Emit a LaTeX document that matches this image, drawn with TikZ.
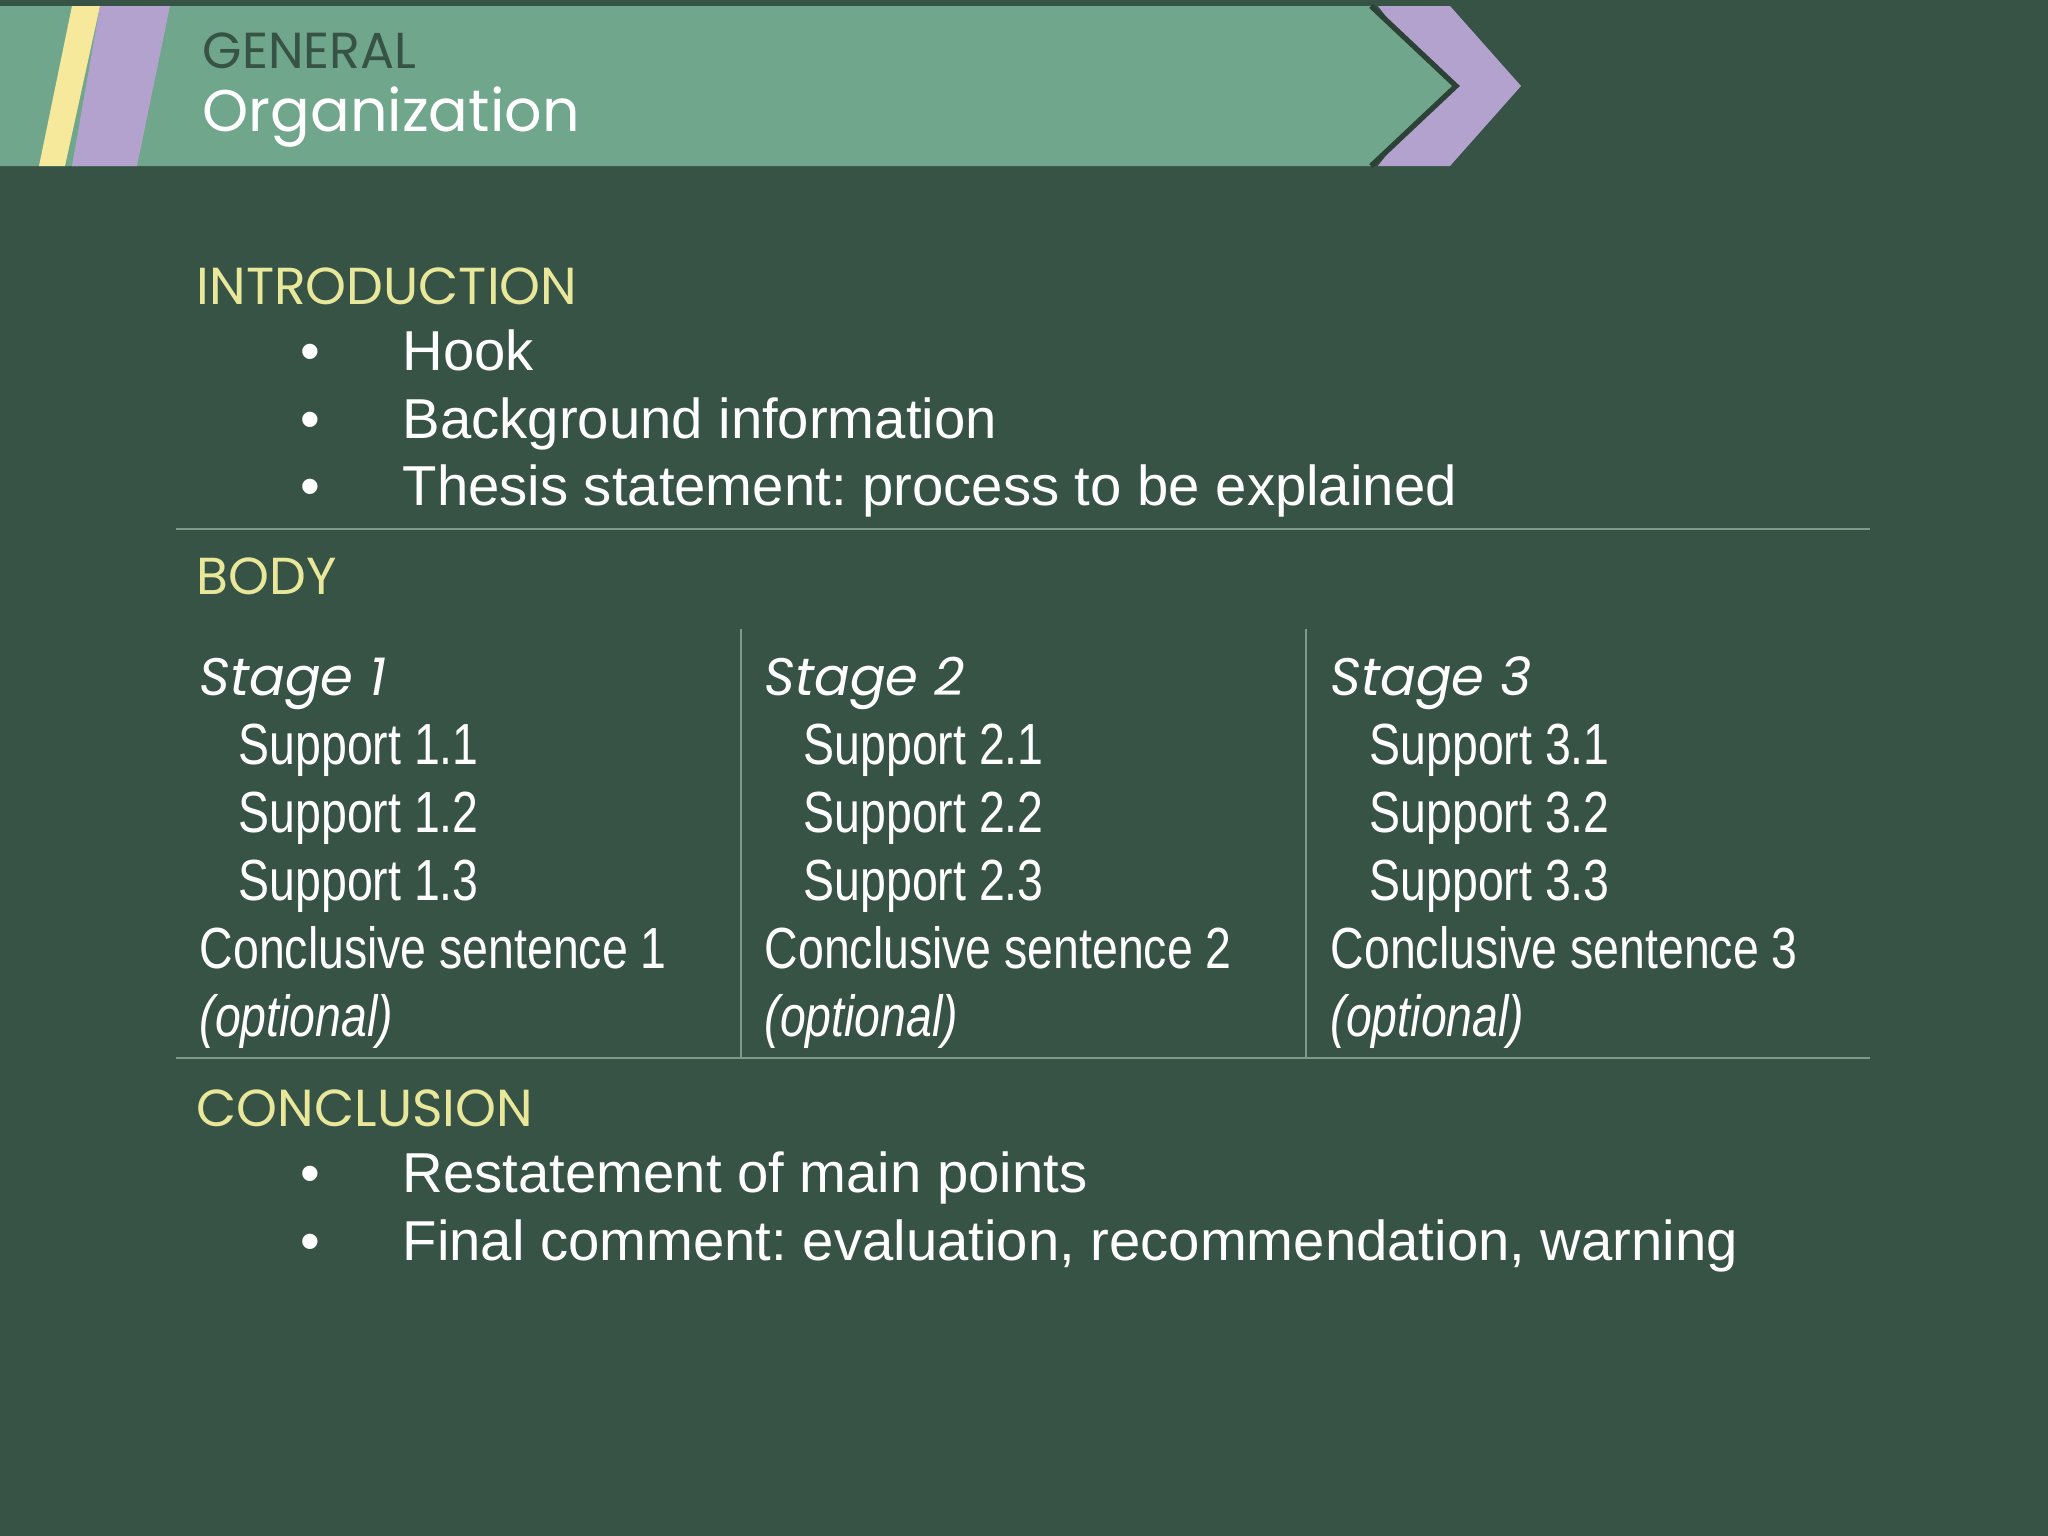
\documentclass[tikz,border=0pt]{standalone}
\usepackage{fontspec}
\setmainfont{Liberation Sans}
\newfontfamily\headf{Poppins}
\newfontfamily\narrowf[FakeStretch=0.8]{Liberation Sans}
\definecolor{bg}{HTML}{375345}
\definecolor{band}{HTML}{70A68B}
\definecolor{purp}{HTML}{B3A2CE}
\definecolor{yel}{HTML}{F6E99B}
\definecolor{head}{HTML}{E8E79A}
\definecolor{rule}{HTML}{7E9A88}
\frenchspacing
\begin{document}
\begin{tikzpicture}[x=0.01cm,y=-0.01cm,every node/.style={inner sep=0pt},
  hd/.style={anchor=base west,text=head,font=\headf\fontsize{14.8}{15}\selectfont},
  bl/.style={anchor=base west,text=white,font=\fontsize{16}{16}\selectfont},
  nr/.style={anchor=base west,text=white,font=\narrowf\fontsize{16.5}{17}\selectfont},
  st/.style={anchor=base west,text=white,font=\headf\itshape\fontsize{15}{16}\selectfont},
  ln/.style={draw=rule,line width=0.6pt}]
\fill[bg] (0,0) rectangle (2048,1536);
\fill[purp] (1378,6) -- (1450,6) -- (1521,86) -- (1450,166) -- (1378,166) -- (1440,86) -- cycle;
\fill[band] (0,6) -- (1371,6) -- (1456,86) -- (1371,166) -- (0,166) -- cycle;
\draw[bg!80!black,line width=1.5pt] (1371,6) -- (1456,86) -- (1371,166);
\fill[yel] (39,166) -- (65,166) -- (100,6) -- (72,6) -- cycle;
\fill[purp] (72,166) -- (137,166) -- (170,6) -- (100,6) -- cycle;
\node[anchor=base west,text=bg,font=\headf\fontsize{14.4}{15}\selectfont] (g) at (202,68) {GENERAL};
\node[anchor=base west,text=white,font=\headf\fontsize{16.7}{17}\selectfont] (o) at (202,131) {Organization};
\node[hd] (i) at (196,304) {INTRODUCTION};
\foreach \y/\t [count=\k] in {370/Hook,438/Background information,505/{Thesis statement: process to be explained}}{
  \node[bl] (ib\k) at (300,\y) {•};
  \node[bl] (it\k) at (402,\y) {\t};}
\draw[ln] (176,529) -- (1870,529);
\node[hd] (b) at (196,594) {BODY};
\foreach \x/\n in {199/1,764/2,1330/3}{
  \node[st] (s\n) at (\x,695) {Stage \n};
  \foreach \y/\m in {764/1,832/2,900/3}
    \node[nr] (p\n\m) at (\x+39,\y) {Support \n.\m};
  \node[nr] (c\n) at (\x,968) {Conclusive sentence \n};
  \node[nr] (q\n) at (\x,1036) {\itshape(optional)};}
\draw[ln] (741,629) -- (741,1058);
\draw[ln] (1306,629) -- (1306,1058);
\draw[ln] (176,1058) -- (1870,1058);
\node[hd] (c) at (196,1126) {CONCLUSION};
\foreach \y/\t [count=\k] in {1192/Restatement of main points,1260/{Final comment: evaluation, recommendation, warning}}{
  \node[bl] (cb\k) at (300,\y) {•};
  \node[bl] (ct\k) at (402,\y) {\t};}
\end{tikzpicture}
\end{document}
